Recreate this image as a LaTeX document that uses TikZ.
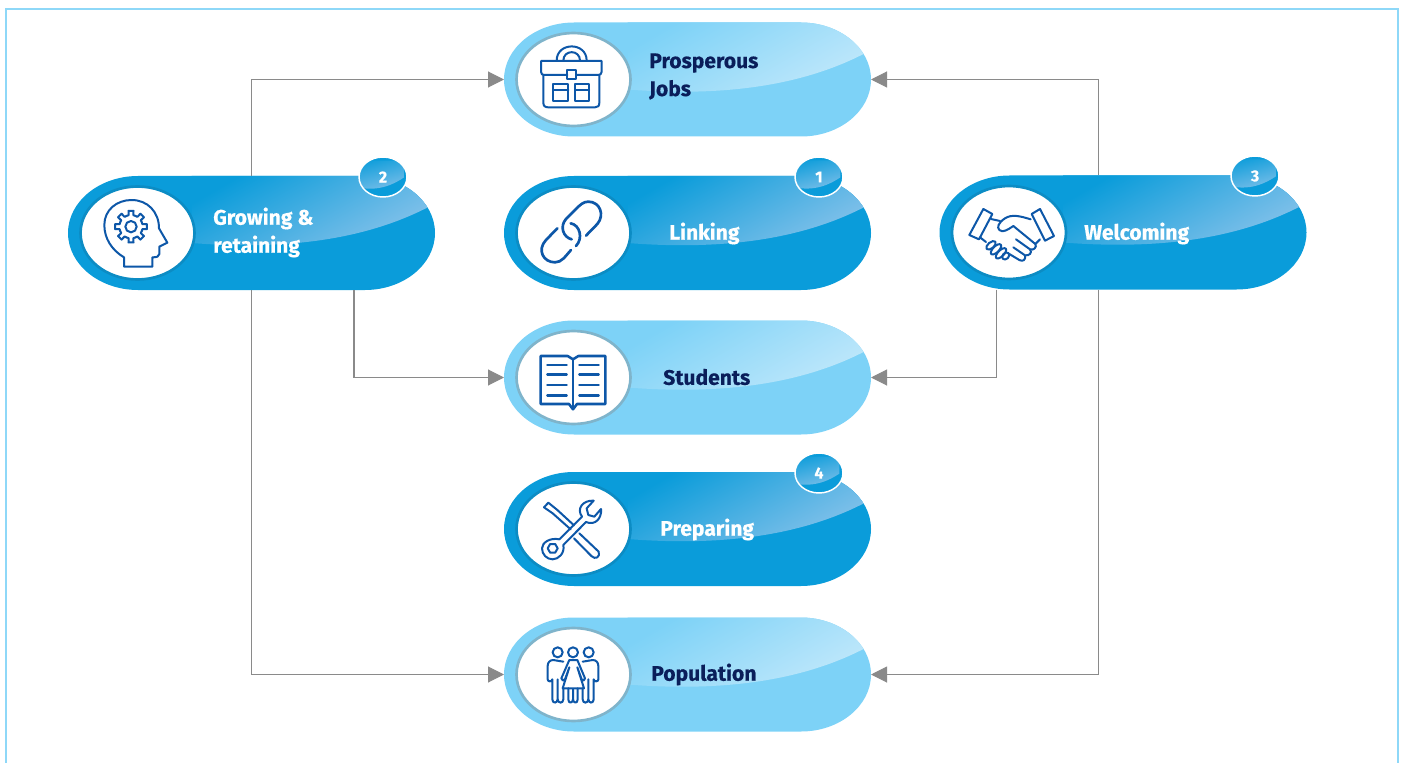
\documentclass[tikz,border=0pt]{standalone}
\usepackage{fontspec}
\setmainfont{Fira Sans}[BoldFeatures={FakeBold=0.5}]
\usetikzlibrary{calc,arrows.meta,shapes.geometric}
\definecolor{framecol}{HTML}{8ED8F8}
\definecolor{pilldark}{HTML}{0A9CDA}
\definecolor{sheendark}{HTML}{8CC4EB}
\definecolor{ringdark}{HTML}{0C8CC4}
\definecolor{pilllight}{HTML}{7DD2F7}
\definecolor{sheenlight}{HTML}{C4E9FB}
\definecolor{ringlight}{HTML}{7FB4CB}
\definecolor{iconblue}{HTML}{0D57A8}
\definecolor{navytext}{HTML}{0A1E5A}
\definecolor{flowgrey}{HTML}{8A8A8A}
\tikzset{
	pillbox/.style={minimum width=275.25pt,minimum height=85.5pt,inner sep=0pt,outer sep=0pt},
	flow/.style={draw=flowgrey,line width=.8pt,-{Triangle[length=12pt,width=12pt]}},
	labeldark/.style={anchor=west,align=left,text=white,font=\fontsize{15.8}{21}\selectfont\bfseries,inner sep=0pt},
	labellight/.style={labeldark,text=navytext},
	badge/.style={ellipse,draw=white,line width=1.1pt,fill=pilldark,minimum width=36pt,minimum height=30pt,inner sep=0pt,
		text=white,font=\fontsize{12}{12}\selectfont\bfseries,
		path picture={\shade[shift={(path picture bounding box.center)},top color=pilldark,bottom color=sheendark,shading angle=15]
			(-25,4) .. controls (-5,9) and (10,5) .. (25,-5) -- (25,-22) -- (-25,-22) -- cycle;}},
	iconcrop/.style={x=.25pt,y=-.25pt,color=iconblue,line width=1.5pt,line join=round,line cap=round},
}
\newcommand{\pillpath}{(-113.5,-57) -- (113.5,-57) .. controls (152,-57) and (183.5,-31.5) .. (183.5,0)
	.. controls (183.5,31.5) and (152,57) .. (113.5,57) -- (-113.5,57)
	.. controls (-152,57) and (-183.5,31.5) .. (-183.5,0) .. controls (-183.5,-31.5) and (-152,-57) .. (-113.5,-57) -- cycle}
\newcommand{\makepill}[6]{
	\node[pillbox] (#1) at (#2,#3) {};
	\begin{scope}[shift={(#1.center)}]
	\fill[#4] \pillpath;
	\begin{scope}
	\clip \pillpath;
	\shade[top color=#4,bottom color=#5,shading angle=30] (-60,-60) -- (190,-60) -- (190,-34) -- (175,-25)
		.. controls (110,8) and (30,17) .. (-60,10) -- cycle;
	\end{scope}
	\draw[#6,line width=2pt,fill=white] (-114,0) ellipse [x radius=57,y radius=46.5];
	\end{scope}
}
\begin{document}
\begin{tikzpicture}[x=.75pt,y=-.75pt]
	\useasboundingbox (0,0) rectangle (1403,763);
	\draw[framecol,line width=1.5pt] (6,763) -- (6,9) -- (1398,9) -- (1398,763);

	\makepill{jobs}{687.5}{79.5}{pilllight}{sheenlight}{ringlight}
	\makepill{growing}{251.5}{233}{pilldark}{sheendark}{ringdark}
	\makepill{linking}{687.5}{233}{pilldark}{sheendark}{ringdark}
	\makepill{welcoming}{1123}{232.5}{pilldark}{sheendark}{ringdark}
	\makepill{students}{687.5}{377.5}{pilllight}{sheenlight}{ringlight}
	\makepill{preparing}{687.5}{529}{pilldark}{sheendark}{ringdark}
	\makepill{population}{687.5}{674.5}{pilllight}{sheenlight}{ringlight}

	\node[badge] (badge2) at (383,177) {2};
	\node[badge] (badge1) at (819,177) {1};
	\node[badge] (badge3) at (1255,176) {3};
	\node[badge] (badge4) at (819,473) {4};

	\node[labellight] (jobstext) at (649,76.5) {Prosperous\\Jobs};
	\node[labeldark] (growingtext) at (213,232.5) {Growing \&\\retaining};
	\node[labeldark] (linkingtext) at (669,233.5) {Linking};
	\node[labeldark] (welcomingtext) at (1084,233.5) {Welcoming};
	\node[labellight] (studentstext) at (663,377) {Students};
	\node[labeldark] (preparingtext) at (660,529.5) {Preparing};
	\node[labellight] (populationtext) at (651,674.5) {Population};

	\draw[flow] ($(growing.north west)+(183.5,0)$) |- (jobs.west);
	\draw[flow] ($(growing.south west)+(183.5,0)$) |- (population.west);
	\draw[flow] ($(growing.south west)+(286,0)$) |- (students.west);
	\draw[flow] ($(welcoming.north west)+(159,0)$) |- (jobs.east);
	\draw[flow] ($(welcoming.south west)+(159,0)$) |- (population.east);
	\draw[flow] ($(welcoming.south west)+(57,0)$) |- (students.east);

	\begin{scope}[shift={(490,10)},iconcrop]
	\draw (200,152) .. controls (200,95) and (290,95) .. (290,152);
	\draw (220,152) .. controls (220,118) and (270,118) .. (270,152);
	\draw (232,195) -- (163,195) .. controls (157,195) and (153,192) .. (153,185) -- (153,153) -- (335,153) -- (335,185) .. controls (335,192) and (330,195) .. (325,195) -- (258,195);
	\draw (232,180) rectangle (258,208);
	\draw (160,195) -- (160,278) .. controls (160,288) and (165,292) .. (175,292) -- (315,292) .. controls (324,292) and (328,288) .. (328,278) -- (328,195);
	\draw (190,222) rectangle (235,272) (190,240) -- (235,240);
	\draw (255,222) rectangle (297,272) (255,240) -- (297,240);
	\end{scope}

	\begin{scope}[shift={(60,150)},iconcrop]
	\draw (192,350) -- (192,322) .. controls (155,300) and (133,265) .. (133,225) .. controls (133,180) and (170,150) .. (215,150)
		.. controls (262,150) and (297,185) .. (297,235) -- (322,278) -- (298,290) -- (298,312) .. controls (298,320) and (290,322) .. (277,322) -- (277,350) -- cycle;
	\coordinate (gearhub) at (213,230);
	\draw (gearhub) circle [radius=17];
	\foreach \a in {0,45,...,315}
		\draw ($(gearhub)+(\a-22.5:35)$) -- ($(gearhub)+(\a-12:35)$) -- ($(gearhub)+(\a-9:48)$) -- ($(gearhub)+(\a+9:48)$) -- ($(gearhub)+(\a+12:35)$) -- ($(gearhub)+(\a+22.5:35)$);
	\end{scope}

	\begin{scope}[shift={(500,150)},iconcrop,line width=2pt]
	\draw (258,257) -- (292,222) .. controls (315,195) and (300,155) .. (265,155) .. controls (250,155) and (240,165) .. (228,177) -- (198,207) .. controls (178,230) and (190,262) .. (215,268);
	\draw (172,235) -- (138,270) .. controls (110,300) and (130,337) .. (165,337) .. controls (185,337) and (195,320) .. (213,300);
	\draw (228,288) .. controls (250,265) and (240,225) .. (212,220);
	\end{scope}

	\begin{scope}[shift={(930,150)},iconcrop]
	\draw (160,177) -- (187,192) -- (147,268) -- (118,255) -- cycle;
	\draw (305,192) -- (330,177) -- (372,258) -- (345,272) -- cycle;
	\draw (183,207) -- (210,213);
	\draw (302,208) .. controls (270,198) and (245,192) .. (225,205) .. controls (205,218) and (200,232) .. (208,240) .. controls (218,250) and (235,238) .. (250,228) -- (316,282) .. controls (322,292) and (310,302) .. (300,298) -- (258,268);
	\draw (330,268) -- (316,282);
	\draw (300,298) .. controls (308,308) and (298,318) .. (285,316) -- (250,292);
	\draw (285,316) .. controls (288,330) and (278,336) .. (268,330) -- (238,312);
	\draw (150,262) -- (168,276);
	\draw[rotate around={40:(183,286)}] (183,286) ellipse [x radius=17,y radius=9];
	\draw[rotate around={45:(198,298)}] (198,298) ellipse [x radius=20,y radius=9];
	\draw[rotate around={45:(213,310)}] (213,310) ellipse [x radius=20,y radius=9];
	\draw[rotate around={45:(227,318)}] (227,318) ellipse [x radius=12,y radius=9];
	\end{scope}

	\begin{scope}[shift={(500,315)},iconcrop,line width=1.9pt]
	\draw (122,123) -- (122,267) -- (207,267) -- (219,283) -- (231,267) -- (316,267) -- (316,123) -- (235,123) -- (219,133) -- (203,123) -- cycle;
	\draw (219,133) -- (219,275);
	\foreach \y in {150,178,210,241}
		\draw (142,\y) -- (200,\y) (238,\y) -- (296,\y);
	\end{scope}

	\begin{scope}[shift={(500,450)},iconcrop]
	\draw (212,238) -- (158,190) -- (132,172) -- (145,158) -- (172,180) -- (222,226);
	\draw (238,250) -- (296,305) .. controls (302,322) and (285,330) .. (274,318) -- (222,265);
	\coordinate (wrenchring) at (158,295);
	\draw (178,268) -- (246,200) .. controls (228,175) and (250,150) .. (281,152) -- (260,175) -- (265,195) -- (283,200) -- (303,177) .. controls (306,205) and (285,228) .. (258,216) -- (190,285) .. controls (195,310) and (175,328) .. (158,328) .. controls (140,328) and (126,313) .. (126,295) .. controls (126,278) and (150,262) .. (178,268) -- cycle;
	\draw ($(wrenchring)+(0:15)$) -- ($(wrenchring)+(60:15)$) -- ($(wrenchring)+(120:15)$) -- ($(wrenchring)+(180:15)$) -- ($(wrenchring)+(240:15)$) -- ($(wrenchring)+(300:15)$) -- cycle;
	\end{scope}

	\begin{scope}[shift={(500,610)},iconcrop]
	\draw (173,127) circle [radius=15];
	\draw (219,127) circle [radius=15];
	\draw (266,127) circle [radius=15];
	\draw (190,155) -- (160,150) .. controls (150,150) and (143,157) .. (143,168) -- (143,208) .. controls (143,216) and (156,216) .. (157,208) -- (157,268) .. controls (157,281) and (172,281) .. (173,268) -- (173,208);
	\draw (173,268) .. controls (174,281) and (190,281) .. (190,268) -- (190,235);
	\draw (248,155) -- (278,150) .. controls (288,150) and (295,157) .. (295,168) -- (295,208) .. controls (295,216) and (282,216) .. (281,208) -- (281,268) .. controls (281,281) and (266,281) .. (265,268) -- (265,208);
	\draw (265,268) .. controls (264,281) and (248,281) .. (248,268) -- (248,235);
	\draw (208,150) -- (232,150) -- (255,205) .. controls (255,212) and (248,214) .. (245,208) -- (232,172) -- (252,235) -- (188,235) -- (208,172) -- (195,208) .. controls (192,214) and (184,212) .. (184,205) -- cycle;
	\draw (205,235) -- (205,268) .. controls (205,281) and (218,281) .. (219,268) -- (219,238);
	\draw (219,268) .. controls (220,281) and (233,281) .. (233,268) -- (233,235);
	\end{scope}
\end{tikzpicture}
\end{document}
